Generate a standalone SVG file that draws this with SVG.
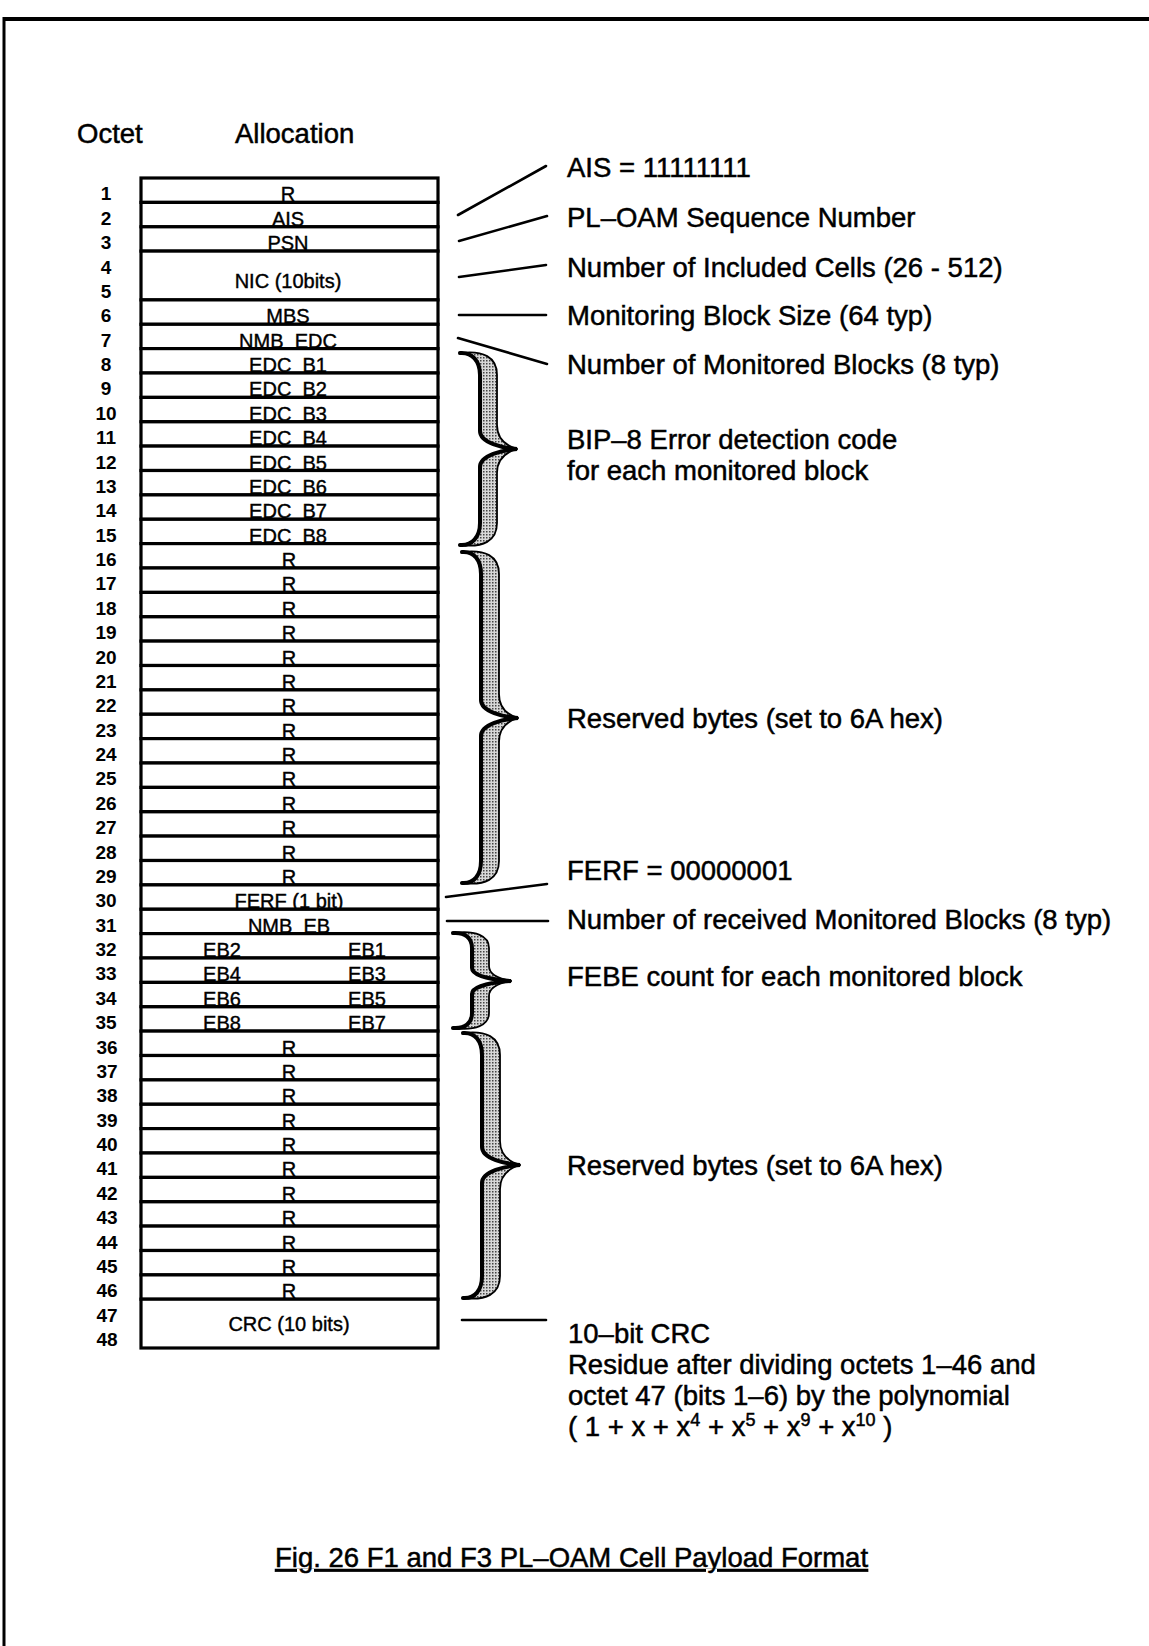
<svg xmlns="http://www.w3.org/2000/svg" width="1149" height="1646" viewBox="0 0 1149 1646">
<style>
.cell{fill:#fff;stroke:#000;stroke-width:3.2}
.lbl{font-family:"Liberation Sans",Arial,sans-serif;font-size:20px;text-anchor:middle;fill:#000;stroke:#000;stroke-width:0.4}
.num{font-family:"Liberation Sans",Arial,sans-serif;font-size:19px;font-weight:bold;text-anchor:middle;fill:#000}
.hdr{font-family:"Liberation Sans",Arial,sans-serif;font-size:27.5px;fill:#000;stroke:#000;stroke-width:0.5}
.txt{font-family:"Liberation Sans",Arial,sans-serif;font-size:27.5px;fill:#000;stroke:#000;stroke-width:0.5}
.lead{stroke:#000;stroke-width:2.6;fill:none;stroke-linecap:round}
.brace{fill:url(#dots);stroke:#000;stroke-width:1.8;stroke-linejoin:round}
.braceedge{fill:none;stroke:#000;stroke-width:4;stroke-linecap:round}
</style>
<defs>
<pattern id="dots" width="3" height="3" patternUnits="userSpaceOnUse">
<rect width="3" height="3" fill="#d8d8d8"/>
<rect width="1.5" height="1.5" fill="#444"/>
</pattern>
</defs>
<rect width="1149" height="1646" fill="#fff"/>
<g id="frame">
<line x1="3" y1="19" x2="1149" y2="19" stroke="#000" stroke-width="4"/>
<line x1="4" y1="17" x2="4" y2="1646" stroke="#000" stroke-width="3"/>
</g>
<g id="headers">
<text class="hdr" x="77" y="143">Octet</text>
<text class="hdr" x="235" y="143">Allocation</text>
</g>
<g id="table">
<g id="o1"><rect class="cell" x="141" y="178" width="297" height="24.4"/><text class="num" x="106" y="200.4">1</text><text class="lbl" x="288" y="201.4">R</text></g>
<g id="o2"><rect class="cell" x="141" y="202.4" width="297" height="24.4"/><text class="num" x="106" y="224.8">2</text><text class="lbl" x="288" y="225.8">AIS</text></g>
<g id="o3"><rect class="cell" x="141" y="226.8" width="297" height="24.3"/><text class="num" x="106" y="249.1">3</text><text class="lbl" x="288" y="250.1">PSN</text></g>
<g id="o4-5"><rect class="cell" x="141" y="251.1" width="297" height="48.8"/><text class="num" x="106" y="273.5">4</text><text class="num" x="106" y="297.9">5</text><text class="lbl" x="288" y="288">NIC (10bits)</text></g>
<g id="o6"><rect class="cell" x="141" y="299.9" width="297" height="24.4"/><text class="num" x="106" y="322.3">6</text><text class="lbl" x="288" y="323.3">MBS</text></g>
<g id="o7"><rect class="cell" x="141" y="324.3" width="297" height="24.3"/><text class="num" x="106" y="346.6">7</text><text class="lbl" x="288" y="347.6">NMB_EDC</text></g>
<g id="o8"><rect class="cell" x="141" y="348.6" width="297" height="24.4"/><text class="num" x="106" y="371">8</text><text class="lbl" x="288" y="372">EDC_B1</text></g>
<g id="o9"><rect class="cell" x="141" y="373" width="297" height="24.4"/><text class="num" x="106" y="395.4">9</text><text class="lbl" x="288" y="396.4">EDC_B2</text></g>
<g id="o10"><rect class="cell" x="141" y="397.4" width="297" height="24.3"/><text class="num" x="106" y="419.8">10</text><text class="lbl" x="288" y="420.8">EDC_B3</text></g>
<g id="o11"><rect class="cell" x="141" y="421.8" width="297" height="24.3"/><text class="num" x="106" y="444.1">11</text><text class="lbl" x="288" y="445.1">EDC_B4</text></g>
<g id="o12"><rect class="cell" x="141" y="446.1" width="297" height="24.4"/><text class="num" x="106" y="468.5">12</text><text class="lbl" x="288" y="469.5">EDC_B5</text></g>
<g id="o13"><rect class="cell" x="141" y="470.5" width="297" height="24.4"/><text class="num" x="106" y="492.9">13</text><text class="lbl" x="288" y="493.9">EDC_B6</text></g>
<g id="o14"><rect class="cell" x="141" y="494.9" width="297" height="24.3"/><text class="num" x="106" y="517.3">14</text><text class="lbl" x="288" y="518.3">EDC_B7</text></g>
<g id="o15"><rect class="cell" x="141" y="519.3" width="297" height="24.3"/><text class="num" x="106" y="541.6">15</text><text class="lbl" x="288" y="542.6">EDC_B8</text></g>
<g id="o16"><rect class="cell" x="141" y="543.6" width="297" height="24.4"/><text class="num" x="106" y="566">16</text><text class="lbl" x="289" y="567">R</text></g>
<g id="o17"><rect class="cell" x="141" y="568" width="297" height="24.4"/><text class="num" x="106" y="590.4">17</text><text class="lbl" x="289" y="591.4">R</text></g>
<g id="o18"><rect class="cell" x="141" y="592.4" width="297" height="24.3"/><text class="num" x="106" y="614.8">18</text><text class="lbl" x="289" y="615.8">R</text></g>
<g id="o19"><rect class="cell" x="141" y="616.8" width="297" height="24.3"/><text class="num" x="106" y="639.1">19</text><text class="lbl" x="289" y="640.1">R</text></g>
<g id="o20"><rect class="cell" x="141" y="641.1" width="297" height="24.4"/><text class="num" x="106" y="663.5">20</text><text class="lbl" x="289" y="664.5">R</text></g>
<g id="o21"><rect class="cell" x="141" y="665.5" width="297" height="24.4"/><text class="num" x="106" y="687.9">21</text><text class="lbl" x="289" y="688.9">R</text></g>
<g id="o22"><rect class="cell" x="141" y="689.9" width="297" height="24.3"/><text class="num" x="106" y="712.3">22</text><text class="lbl" x="289" y="713.3">R</text></g>
<g id="o23"><rect class="cell" x="141" y="714.3" width="297" height="24.3"/><text class="num" x="106" y="736.6">23</text><text class="lbl" x="289" y="737.6">R</text></g>
<g id="o24"><rect class="cell" x="141" y="738.6" width="297" height="24.4"/><text class="num" x="106" y="761">24</text><text class="lbl" x="289" y="762">R</text></g>
<g id="o25"><rect class="cell" x="141" y="763" width="297" height="24.4"/><text class="num" x="106" y="785.4">25</text><text class="lbl" x="289" y="786.4">R</text></g>
<g id="o26"><rect class="cell" x="141" y="787.4" width="297" height="24.3"/><text class="num" x="106" y="809.8">26</text><text class="lbl" x="289" y="810.8">R</text></g>
<g id="o27"><rect class="cell" x="141" y="811.8" width="297" height="24.3"/><text class="num" x="106" y="834.1">27</text><text class="lbl" x="289" y="835.1">R</text></g>
<g id="o28"><rect class="cell" x="141" y="836.1" width="297" height="24.4"/><text class="num" x="106" y="858.5">28</text><text class="lbl" x="289" y="859.5">R</text></g>
<g id="o29"><rect class="cell" x="141" y="860.5" width="297" height="24.4"/><text class="num" x="106" y="882.9">29</text><text class="lbl" x="289" y="883.9">R</text></g>
<g id="o30"><rect class="cell" x="141" y="884.9" width="297" height="24.3"/><text class="num" x="106" y="907.3">30</text><text class="lbl" x="289" y="908.3">FERF (1 bit)</text></g>
<g id="o31"><rect class="cell" x="141" y="909.3" width="297" height="24.3"/><text class="num" x="106" y="931.6">31</text><text class="lbl" x="289" y="932.6">NMB_EB</text></g>
<g id="o32"><rect class="cell" x="141" y="933.6" width="297" height="24.4"/><text class="num" x="106" y="956">32</text><text class="lbl" x="222" y="957">EB2</text><text class="lbl" x="367" y="957">EB1</text></g>
<g id="o33"><rect class="cell" x="141" y="958" width="297" height="24.4"/><text class="num" x="106" y="980.4">33</text><text class="lbl" x="222" y="981.4">EB4</text><text class="lbl" x="367" y="981.4">EB3</text></g>
<g id="o34"><rect class="cell" x="141" y="982.4" width="297" height="24.3"/><text class="num" x="106" y="1004.8">34</text><text class="lbl" x="222" y="1005.8">EB6</text><text class="lbl" x="367" y="1005.8">EB5</text></g>
<g id="o35"><rect class="cell" x="141" y="1006.8" width="297" height="24.3"/><text class="num" x="106" y="1029.1">35</text><text class="lbl" x="222" y="1030.1">EB8</text><text class="lbl" x="367" y="1030.1">EB7</text></g>
<g id="o36"><rect class="cell" x="141" y="1031.1" width="297" height="24.4"/><text class="num" x="107" y="1053.5">36</text><text class="lbl" x="289" y="1054.5">R</text></g>
<g id="o37"><rect class="cell" x="141" y="1055.5" width="297" height="24.4"/><text class="num" x="107" y="1077.9">37</text><text class="lbl" x="289" y="1078.9">R</text></g>
<g id="o38"><rect class="cell" x="141" y="1079.9" width="297" height="24.3"/><text class="num" x="107" y="1102.3">38</text><text class="lbl" x="289" y="1103.3">R</text></g>
<g id="o39"><rect class="cell" x="141" y="1104.3" width="297" height="24.3"/><text class="num" x="107" y="1126.6">39</text><text class="lbl" x="289" y="1127.6">R</text></g>
<g id="o40"><rect class="cell" x="141" y="1128.6" width="297" height="24.4"/><text class="num" x="107" y="1151">40</text><text class="lbl" x="289" y="1152">R</text></g>
<g id="o41"><rect class="cell" x="141" y="1153" width="297" height="24.4"/><text class="num" x="107" y="1175.4">41</text><text class="lbl" x="289" y="1176.4">R</text></g>
<g id="o42"><rect class="cell" x="141" y="1177.4" width="297" height="24.3"/><text class="num" x="107" y="1199.8">42</text><text class="lbl" x="289" y="1200.8">R</text></g>
<g id="o43"><rect class="cell" x="141" y="1201.8" width="297" height="24.3"/><text class="num" x="107" y="1224.1">43</text><text class="lbl" x="289" y="1225.1">R</text></g>
<g id="o44"><rect class="cell" x="141" y="1226.1" width="297" height="24.4"/><text class="num" x="107" y="1248.5">44</text><text class="lbl" x="289" y="1249.5">R</text></g>
<g id="o45"><rect class="cell" x="141" y="1250.5" width="297" height="24.4"/><text class="num" x="107" y="1272.9">45</text><text class="lbl" x="289" y="1273.9">R</text></g>
<g id="o46"><rect class="cell" x="141" y="1274.9" width="297" height="24.3"/><text class="num" x="107" y="1297.3">46</text><text class="lbl" x="289" y="1298.3">R</text></g>
<g id="o47-48"><rect class="cell" x="141" y="1299.2" width="297" height="48.8"/><text class="num" x="107" y="1321.6">47</text><text class="num" x="107" y="1346">48</text><text class="lbl" x="289" y="1331">CRC (10 bits)</text></g>
</g>
<g id="connectors">
<line class="lead" x1="458" y1="215" x2="546" y2="166"/>
<line class="lead" x1="459" y1="241" x2="547" y2="216"/>
<line class="lead" x1="459" y1="277" x2="546" y2="265"/>
<line class="lead" x1="459" y1="315" x2="546" y2="315"/>
<line class="lead" x1="458" y1="338" x2="547" y2="364"/>
<line class="lead" x1="446" y1="897" x2="547" y2="884"/>
<line class="lead" x1="447" y1="921" x2="548" y2="921"/>
<line class="lead" x1="462" y1="1320" x2="546" y2="1320"/>
<g id="brace1">
<path class="brace" d="M460,353 C472,352 480,361 480,375 L480,431 C480,443 503,448 517,449 C507,446 497,439 497,425 L497,375 C497,357 483,350 460,353 Z"/>
<path class="brace" d="M460,545 C472,546 480,537 480,523 L480,467 C480,455 503,450 517,449 C507,452 497,459 497,473 L497,523 C497,541 483,548 460,545 Z"/>
<path class="braceedge" d="M460,353 C472,352 480,361 480,375 L480,431 C480,443 503,448 517,449 C503,450 480,455 480,467 L480,523 C480,537 472,546 460,545"/>
</g>
<g id="brace2">
<path class="brace" d="M462,552 C474,551 481,560 481,574 L481,700 C481,712 504,717 518,718 C508,715 499,708 499,694 L499,574 C499,556 485,549 462,552 Z"/>
<path class="brace" d="M462,883 C474,884 481,875 481,861 L481,736 C481,724 504,719 518,718 C508,721 499,728 499,742 L499,861 C499,879 485,886 462,883 Z"/>
<path class="braceedge" d="M462,552 C474,551 481,560 481,574 L481,700 C481,712 504,717 518,718 C504,719 481,724 481,736 L481,861 C481,875 474,884 462,883"/>
</g>
<g id="brace3">
<path class="brace" d="M453,933 C465,932 472,938 472,948 L472,968 C472,977 497,980 511,981 C500,979 489,975 489,966 L489,948 C489,936 476,930 453,933 Z"/>
<path class="brace" d="M453,1028 C465,1029 472,1023 472,1013 L472,994 C472,985 497,982 511,981 C500,983 489,987 489,996 L489,1013 C489,1025 476,1031 453,1028 Z"/>
<path class="braceedge" d="M453,933 C465,932 472,938 472,948 L472,968 C472,977 497,980 511,981 C497,982 472,985 472,994 L472,1013 C472,1023 465,1029 453,1028"/>
</g>
<g id="brace4">
<path class="brace" d="M463,1033 C475,1032 482,1041 482,1055 L482,1147 C482,1159 506,1164 520,1165 C510,1162 500,1155 500,1141 L500,1055 C500,1037 486,1030 463,1033 Z"/>
<path class="brace" d="M463,1298 C475,1299 482,1290 482,1276 L482,1183 C482,1171 506,1166 520,1165 C510,1168 500,1175 500,1189 L500,1276 C500,1294 486,1301 463,1298 Z"/>
<path class="braceedge" d="M463,1033 C475,1032 482,1041 482,1055 L482,1147 C482,1159 506,1164 520,1165 C506,1166 482,1171 482,1183 L482,1276 C482,1290 475,1299 463,1298"/>
</g>
</g>
<g id="labels">
<text class="txt" x="567" y="177">AIS = 11111111</text>
<text class="txt" x="567" y="227">PL–OAM Sequence Number</text>
<text class="txt" x="567" y="277">Number of Included Cells (26 - 512)</text>
<text class="txt" x="567" y="325">Monitoring Block Size (64 typ)</text>
<text class="txt" x="567" y="374">Number of Monitored Blocks (8 typ)</text>
<text class="txt" x="567" y="449">BIP–8 Error detection code</text>
<text class="txt" x="567" y="480">for each monitored block</text>
<text class="txt" x="567" y="728">Reserved bytes (set to 6A hex)</text>
<text class="txt" x="567" y="880">FERF = 00000001</text>
<text class="txt" x="567" y="929">Number of received Monitored Blocks (8 typ)</text>
<text class="txt" x="567" y="986">FEBE count for each monitored block</text>
<text class="txt" x="567" y="1175">Reserved bytes (set to 6A hex)</text>
<text class="txt" x="568" y="1343">10–bit CRC</text>
<text class="txt" x="568" y="1374">Residue after dividing octets 1–46 and</text>
<text class="txt" x="568" y="1405">octet 47 (bits 1–6) by the polynomial</text>
<text class="txt" x="568" y="1436">( 1 + x + x<tspan dy="-10" font-size="18">4</tspan><tspan dy="10"> + x</tspan><tspan dy="-10" font-size="18">5</tspan><tspan dy="10"> + x</tspan><tspan dy="-10" font-size="18">9</tspan><tspan dy="10"> + x</tspan><tspan dy="-10" font-size="18">10</tspan><tspan dy="10"> )</tspan></text>
</g>
<g id="caption">
<text class="txt" x="275" y="1567" font-size="28.8" text-decoration="underline">Fig. 26 F1 and F3 PL–OAM Cell Payload Format</text>
</g>
</svg>
